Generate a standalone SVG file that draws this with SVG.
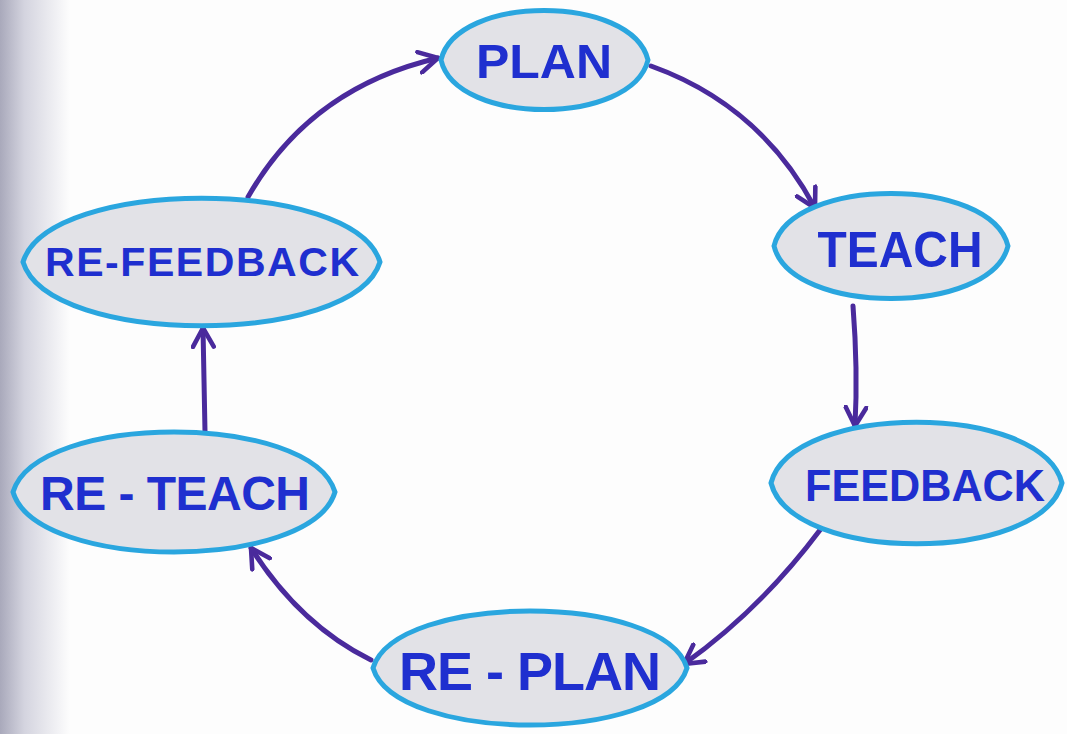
<svg xmlns="http://www.w3.org/2000/svg" width="1067" height="734" viewBox="0 0 1067 734">
  <defs>
    <linearGradient id="edgeShade" x1="0" y1="0" x2="1" y2="0">
      <stop offset="0" stop-color="#a9a9bb"/>
      <stop offset="0.35" stop-color="#d4d4df"/>
      <stop offset="1" stop-color="#fdfdfd"/>
    </linearGradient>
    <marker id="arrow" viewBox="0 0 12 12" refX="10" refY="6" markerWidth="5" markerHeight="5" orient="auto" markerUnits="strokeWidth">
      <path d="M1,1 L10,6 L1,11" fill="none" stroke="#4a2a9c" stroke-width="2.2" stroke-linecap="round" stroke-linejoin="round"/>
    </marker>
  </defs>
  <style>
    .node-shape { fill: #e2e2e7; stroke: #2aa6df; stroke-width: 5; }
    .label { font-family: "Liberation Sans", "DejaVu Sans", sans-serif; font-weight: bold; fill: #1f2fcf; text-anchor: middle; }
    .edge { fill: none; stroke: #4a2a9c; stroke-width: 5; stroke-linecap: round; marker-end: url(#arrow); }
  </style>

  <!-- paper -->
  <rect x="0" y="0" width="1067" height="734" fill="#fdfdfd"/>
  <rect x="0" y="0" width="70" height="734" fill="url(#edgeShade)"/>

  <!-- connectors -->
  <g id="connectors">
    <path class="edge" d="M248,197 Q310,88 438,58"/>
    <path class="edge" d="M651,66 Q760,105 815,208"/>
    <path class="edge" d="M853,306 Q858,370 855,426"/>
    <path class="edge" d="M820,530 Q760,610 684,664"/>
    <path class="edge" d="M371,660 Q300,625 251,548"/>
    <path class="edge" d="M205,432 L203,328"/>
  </g>

  <!-- nodes -->
  <g id="node-plan">
    <path class="node-shape" d="M441,60 C456,-6 632,-6 648,60 C632,126 456,126 441,60 Z"/>
    <text class="label" x="544" y="78" font-size="48" textLength="136" lengthAdjust="spacingAndGlyphs">PLAN</text>
  </g>
  <g id="node-teach">
    <path class="node-shape" d="M774,246 C791,176 991,176 1008,246 C991,316 791,316 774,246 Z"/>
    <text class="label" x="900" y="267" font-size="50" textLength="165" lengthAdjust="spacingAndGlyphs">TEACH</text>
  </g>
  <g id="node-feedback">
    <path class="node-shape" d="M771,483 C792,402 1041,402 1062,483 C1041,564 792,564 771,483 Z"/>
    <text class="label" x="925" y="501" font-size="44" textLength="240" lengthAdjust="spacingAndGlyphs">FEEDBACK</text>
  </g>
  <g id="node-replan">
    <path class="node-shape" d="M373,668 C396,592 664,592 687,668 C664,744 396,744 373,668 Z"/>
    <text class="label" x="530" y="690" font-size="54" textLength="262" lengthAdjust="spacing">RE - PLAN</text>
  </g>
  <g id="node-reteach">
    <path class="node-shape" d="M13,492 C37,412 311,412 335,492 C311,572 37,572 13,492 Z"/>
    <text class="label" x="175" y="510" font-size="48" textLength="270" lengthAdjust="spacing">RE - TEACH</text>
  </g>
  <g id="node-refeedback">
    <path class="node-shape" d="M23,262 C49,177 354,177 380,262 C354,347 49,347 23,262 Z"/>
    <text class="label" x="202" y="276" font-size="41" textLength="314" lengthAdjust="spacing">RE-FEEDBACK</text>
  </g>
</svg>
